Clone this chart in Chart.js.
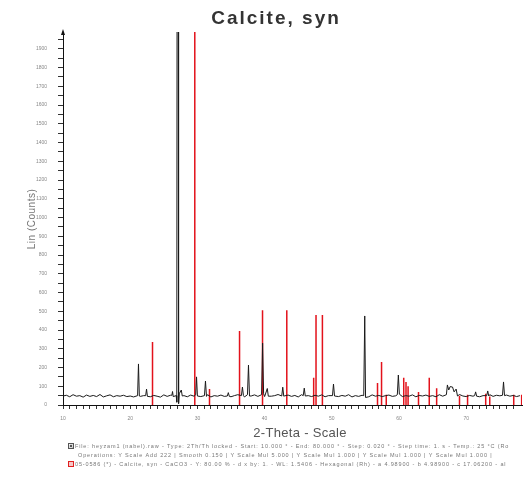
<!DOCTYPE html>
<html lang="en">
<head>
<meta charset="UTF-8">
<title>Calcite, syn</title>
<script src="https://cdn.jsdelivr.net/npm/chart.js"></script>
<style>
  html, body { margin: 0; padding: 0; background: #fff; }
  #wrap { position: relative; width: 525px; height: 490px; }
</style>
</head>
<body>
<div id="wrap"><canvas id="xrd" width="525" height="490"></canvas></div>

<script>
// measured scan: noisy background every 0.5 deg from 10 to 78
const baseStart = 10;
const baseStep = 0.5;
const baseCounts = [
  48,52,44,55,47,50,42,53,46,51,45,56,43,49,54,44,50,47,52,45,
  48,43,53,46,50,55,44,51,47,42,54,46,52,49,58,45,50,44,53,47,
  51,45,49,55,43,50,47,53,46,52,44,50,55,47,43,51,48,54,46,50,
  45,52,47,50,56,44,49,53,46,51,43,55,48,50,45,52,47,54,44,50,
  48,53,45,51,47,55,43,50,46,52,49,44,54,47,51,45,50,53,46,49,
  52,45,50,47,54,44,51,48,53,46,50,44,55,47,52,49,58,62,56,48,
  45,51,47,53,44,50,48,55,46,52,49,44,53,47,51,45,50
];

// measured peaks (flank / top / flank points)
const peakTheta = [
  21.1, 21.23, 21.36,  22.3, 22.43, 22.56,  26.2, 26.3, 26.4,
  26.85, 26.93, 26.98, 27.14, 27.2, 27.3, 27.6, 27.75,
  29.75, 29.87, 30.0,  31.05, 31.2, 31.35,  34.45, 34.6, 34.75,
  36.55, 36.7, 36.85,  37.45, 37.6, 37.75,  39.55, 39.7, 39.85, 40.4, 40.55,
  42.55, 42.7, 42.85,  45.75, 45.9, 46.05,  50.1, 50.25, 50.4,
  54.75, 54.9, 55.02,  59.75, 59.9, 60.05,
  67.05, 67.2, 67.4, 67.6, 67.96, 68.2, 68.5, 68.7,
  71.25, 71.4, 71.55,  73.05, 73.2, 73.35,  75.4, 75.55, 75.7
];
const peakCounts = [
  50, 219, 48,  50, 85, 46,  52, 72, 45,
  50, 15, 2600, 2600, 8, 60, 80, 48,
  55, 150, 48,  50, 128, 46,  48, 66, 46,
  50, 96, 50,  55, 213, 48,  55, 330, 60, 88, 47,
  48, 95, 47,  50, 90, 48,  50, 112, 48,
  50, 475, 40,  55, 160, 58,
  55, 107, 80, 98, 96, 70, 85, 48,
  50, 70, 47,  50, 75, 48,  52, 123, 50
];

// reference pattern 05-0586 Calcite, syn (stick positions / heights)
const stickTheta = [23.32, 29.61, 31.8, 36.27, 39.69, 43.3, 47.3, 47.65, 48.6, 56.8, 57.4, 58.1,
  60.7, 61.04, 61.35, 62.9, 64.5, 65.6, 69.0, 70.2, 72.9, 73.5, 77.07, 78.25];
const stickCounts = [336, 2600, 85, 395, 505, 505, 145, 480, 480, 117, 230, 55,
  145, 123, 100, 70, 145, 90, 50, 55, 60, 45, 55, 55];

const xMin = 10, xMax = 78.3;
const yMin = 0, yMax = 1990;

const captionLines = [
  'File: heyzam1 (nabel).raw - Type: 2Th/Th locked - Start: 10.000 \u00b0 - End: 80.000 \u00b0 - Step: 0.020 \u00b0 - Step time: 1. s - Temp.: 25 \u00b0C (Ro',
  'Operations: Y Scale Add 222 | Smooth 0.150 | Y Scale Mul 5.000 | Y Scale Mul 1.000 | Y Scale Mul 1.000 | Y Scale Mul 1.000 |',
  '05-0586 (*) - Calcite, syn - CaCO3 - Y: 80.00 % - d x by: 1. - WL: 1.5406 - Hexagonal (Rh) - a 4.98900 - b 4.98900 - c 17.06200 - al'
];

// build the measured line
let measured = [];
baseCounts.forEach((c, i) => {
  const t = baseStart + i * baseStep;
  if (!peakTheta.some(p => Math.abs(p - t) < 0.14)) measured.push({ x: t, y: c });
});
peakTheta.forEach((t, i) => measured.push({ x: t, y: peakCounts[i] }));
measured.sort((a, b) => a.x - b.x);

// sticks as separate segments
let sticks = [];
stickTheta.forEach((t, i) => {
  sticks.push({ x: t, y: 0 }, { x: t, y: stickCounts[i] }, { x: t, y: null });
});

const extras = {
  id: 'extras',
  afterDraw(chart) {
    const c = chart.ctx;
    const a = chart.chartArea;
    c.save();
    // title
    c.fillStyle = '#333';
    c.font = 'bold 19px "Liberation Sans", Arial, sans-serif';
    c.letterSpacing = '2px';
    c.textAlign = 'center';
    c.textBaseline = 'middle';
    c.fillText('Calcite, syn', 276, 19);
    c.letterSpacing = '0px';

    // arrow on y axis
    c.fillStyle = '#111';
    c.beginPath();
    c.moveTo(a.left, a.top - 3);
    c.lineTo(a.left - 2, a.top + 3);
    c.lineTo(a.left + 2, a.top + 3);
    c.closePath();
    c.fill();

    // y title
    c.save();
    c.translate(32, 219);
    c.rotate(-Math.PI / 2);
    c.fillStyle = '#777';
    c.font = '10px "Liberation Sans", Arial, sans-serif';
    c.letterSpacing = '0.5px';
    c.fillText('Lin (Counts)', 0, 0);
    c.restore();

    // x title
    c.fillStyle = '#555';
    c.font = '13px "Liberation Sans", Arial, sans-serif';
    c.letterSpacing = '0.3px';
    c.fillText('2-Theta - Scale', 300, 433);

    // caption
    c.textAlign = 'left';
    c.font = '5.5px "Liberation Sans", Arial, sans-serif';
    c.letterSpacing = '0.85px';
    c.fillStyle = '#777';
    c.fillText(captionLines[0], 75, 446);
    c.fillText(captionLines[1], 78, 455);
    c.fillText(captionLines[2], 75, 464);
    c.letterSpacing = '0px';

    c.fillStyle = '#555';
    c.fillRect(68, 443, 6, 6);
    c.strokeStyle = '#fff';
    c.lineWidth = 0.8;
    c.strokeRect(69.5, 444.5, 3, 3);
    c.fillStyle = '#f6c8c8';
    c.fillRect(68, 461, 6, 6);
    c.strokeStyle = '#e02020';
    c.lineWidth = 1;
    c.strokeRect(68.5, 461.5, 5, 5);
    c.restore();
  }
};

new Chart(document.getElementById('xrd'), {
  type: 'scatter',
  data: {
    datasets: [
      {
        label: 'heyzam1',
        data: measured,
        showLine: true,
        borderColor: '#1a1a1a',
        borderWidth: 1,
        pointRadius: 0,
        tension: 0
      },
      {
        label: '05-0586 Calcite, syn',
        data: sticks,
        showLine: true,
        spanGaps: false,
        borderColor: '#e3121b',
        borderWidth: 1.5,
        pointRadius: 0
      }
    ]
  },
  options: {
    responsive: false,
    animation: false,
    events: [],
    layout: { padding: { left: 0, right: 3, top: 32, bottom: 0 } },
    plugins: {
      legend: { display: false },
      title: { display: false },
      tooltip: { enabled: false }
    },
    scales: {
      x: {
        type: 'linear',
        min: xMin,
        max: xMax,
        afterFit: s => { s.height = 85; },
        afterBuildTicks: s => { s.ticks = s.ticks.filter(t => Number.isInteger(t.value)); },
        border: { display: true, color: '#111', width: 1 },
        grid: { drawOnChartArea: false, tickLength: 4, color: '#333' },
        ticks: {
          stepSize: 1,
          autoSkip: false,
          maxRotation: 0,
          padding: 7,
          color: '#888',
          font: { size: 5, family: 'Liberation Sans' },
          callback: v => (v % 10 === 0 ? v : '')
        }
      },
      y: {
        min: yMin,
        max: yMax,
        afterFit: s => { s.width = 63; },
        afterBuildTicks: s => { s.ticks = s.ticks.filter(t => t.value % 50 === 0); },
        border: { display: true, color: '#111', width: 1 },
        grid: { drawOnChartArea: false, tickLength: 5, color: '#333' },
        ticks: {
          stepSize: 50,
          autoSkip: false,
          padding: 11,
          color: '#888',
          font: { size: 5, family: 'Liberation Sans' },
          callback: v => (v % 100 === 0 ? v : '')
        }
      }
    }
  },
  plugins: [extras]
});
</script>
</body>
</html>
